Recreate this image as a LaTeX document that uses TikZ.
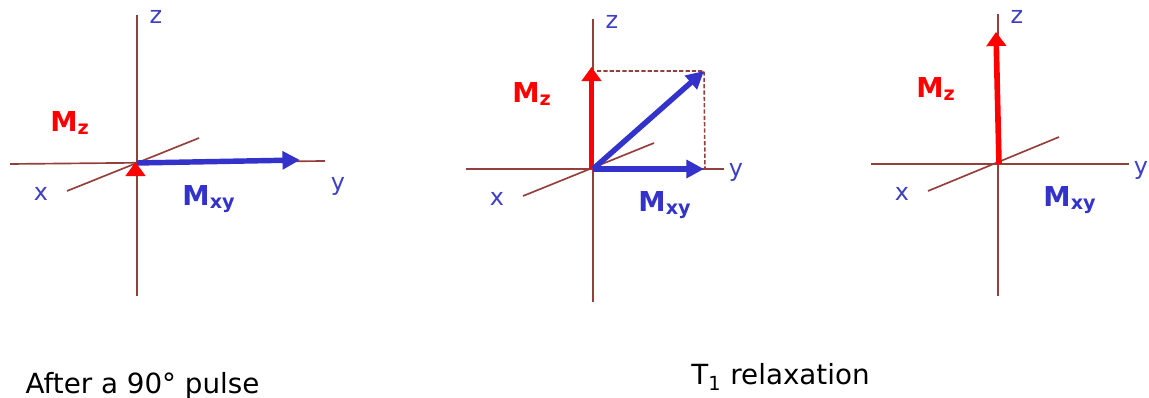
\documentclass[tikz,border=0pt]{standalone}
\usepackage{fontspec}
\setmainfont{DejaVu Sans}
\usepackage{tikz}
\usetikzlibrary{arrows.meta,positioning,calc}

\definecolor{axisbrown}{HTML}{943F3C}
\definecolor{vecblue}{HTML}{3333CC}
\definecolor{lblblue}{HTML}{3F3FC4}

\begin{document}
\begin{tikzpicture}[x=0.02cm, y=-0.02cm,
  axis/.style={draw=axisbrown, line width=0.95pt},
  guide/.style={draw=axisbrown, line width=0.9pt, dashed, dash pattern=on 2.4pt off 1.2pt},
  mzvec/.style={draw=red, line width=3.2pt, -{Triangle[length=8pt,width=11pt]}},
  mxyvec/.style={draw=vecblue, line width=3.1pt, -{Triangle[length=10pt,width=10pt]}},
  axlabel/.style={font=\fontsize{13.6}{16}\selectfont, text=lblblue, inner sep=0pt},
  mzlabel/.style={font=\fontsize{15.6}{18}\selectfont\bfseries, text=red, inner sep=0pt},
  mxylabel/.style={font=\fontsize{15.6}{18}\selectfont\bfseries, text=vecblue, inner sep=0pt},
  caption/.style={font=\fontsize{15.8}{19}\selectfont, text=black, inner sep=0pt},
]
\useasboundingbox (0,0) rectangle (1149,398);

% ============ LEFT AXES: after the pulse ============
\coordinate (aO) at (137,163);
\coordinate (aZt) at (137,15);
\coordinate (aZb) at (137,296);
\coordinate (aYl) at (10,164);
\coordinate (aYr) at (325,161);
\coordinate (aXl) at (67,191);
\coordinate (aXr) at (199,138);
\draw[axis] (aZt) -- (aZb);
\draw[axis] (aYl) -- (aYr);
\draw[axis] (aXl) -- (aXr);
\coordinate (aMzb) at (135.5,176);
\coordinate (aMzt) at (135.5,162);
\coordinate (aMxy) at (300,160);
\draw[mzvec] (aMzb) -- (aMzt);
\draw[mxyvec] (aO) -- (aMxy);
\node[axlabel] (az) at (156,17) {z};
\node[axlabel] (ay) at (338,186) {y};
\node[axlabel] (ax) at (41,194) {x};
\node[mzlabel] (amz) at (70,123) {M\textsubscript{z}};
\node[mxylabel] (amxy) at (209,199) {M\textsubscript{xy}};

% ============ MIDDLE AXES: relaxing ============
\coordinate (bO) at (593,169);
\coordinate (bZt) at (593,19);
\coordinate (bZb) at (593,302);
\coordinate (bYl) at (466,169);
\coordinate (bYr) at (724,169);
\coordinate (bXl) at (523,196);
\coordinate (bXr) at (654,143);
\draw[axis] (bZt) -- (bZb);
\draw[axis] (bYl) -- (bYr);
\draw[axis] (bXl) -- (bXr);
\coordinate (bMz) at (591.5,67);
\coordinate (bMzb) at (591.5,169);
\coordinate (bMxy) at (704,71);
\coordinate (bMy) at (704,169);
\coordinate (bDz) at (597,71);
\coordinate (bDy) at (705,169);
% dashed guides between the three tips
\draw[guide] (bDz) -- (bMxy) -- (bDy);
\draw[mzvec] (bMzb) -- (bMz);
\draw[mxyvec] (bO) -- (bMxy);
\draw[mxyvec] (bO) -- (bMy);
\node[axlabel] (bz) at (612,22) {z};
\node[axlabel] (by) at (736,172) {y};
\node[axlabel] (bx) at (497,199) {x};
\node[mzlabel] (bmz) at (532,94) {M\textsubscript{z}};
\node[mxylabel] (bmxy) at (665,205) {M\textsubscript{xy}};

% ============ RIGHT AXES: recovered ============
\coordinate (cO) at (999,164);
\coordinate (cZt) at (998,14);
\coordinate (cZb) at (998,296);
\coordinate (cYl) at (871,164);
\coordinate (cYr) at (1129,164);
\coordinate (cXl) at (928,191);
\coordinate (cXr) at (1059,137);
\draw[axis] (cZt) -- (cZb);
\draw[axis] (cYl) -- (cYr);
\draw[axis] (cXl) -- (cXr);
\coordinate (cMz) at (996,32);
\draw[mzvec] (cO) -- (cMz);
\node[axlabel] (cz) at (1017,17) {z};
\node[axlabel] (cy) at (1141,170) {y};
\node[axlabel] (cx) at (902,194) {x};
\node[mzlabel] (cmz) at (936,89) {M\textsubscript{z}};
\node[mxylabel] (cmxy) at (1070,200) {M\textsubscript{xy}};

% ============ CAPTIONS ============
\node[caption] (pulse) at (142.5,386) {After a 90° pulse};
\node[caption] (relax) at (780.5,377) {T\textsubscript{1} relaxation};

\end{tikzpicture}
\end{document}
